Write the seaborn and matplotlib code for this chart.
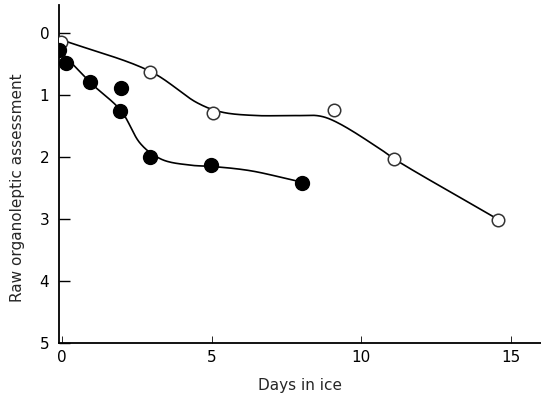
import numpy as np
import pandas as pd
import matplotlib
matplotlib.use("Agg")
import matplotlib.pyplot as plt
import seaborn as sns

# pontos medidos (dias em gelo, avaliação organoléptica)
dias_aberto = [-0.03, 2.95, 5.03, 9.07, 11.1, 14.55]
nota_aberto = [0.15, 0.63, 1.29, 1.24, 2.03, 3.02]

dias_cheio = [-0.1, 0.13, 0.93, 1.97, 1.93, 2.93, 4.97, 8.03]
nota_cheio = [0.27, 0.48, 0.79, 0.89, 1.26, 2.0, 2.13, 2.42]

# curvas desenhadas à mão (nós)
curva_aberto_x = [0.0, 3.0, 4.5, 5.3, 6.5, 7.8, 8.8, 10.6, 11.1, 14.55]
curva_aberto_y = [0.11, 0.63, 1.12, 1.27, 1.33, 1.33, 1.36, 1.86, 2.03, 3.0]

curva_cheio_x = [0.1, 1.0, 2.0, 2.6, 3.3, 4.3, 5.0, 6.3, 7.8]
curva_cheio_y = [0.37, 0.82, 1.27, 1.77, 2.03, 2.13, 2.15, 2.22, 2.38]


def suavizar(xs, ys, n=30, alpha=0.5):
    # Catmull-Rom centrípeta para ligar os nós sem ultrapassagens
    p = np.column_stack([xs, ys]).astype(float)
    p = np.vstack([2 * p[0] - p[1], p, 2 * p[-1] - p[-2]])
    out = []
    for i in range(1, len(p) - 2):
        p0, p1, p2, p3 = p[i - 1], p[i], p[i + 1], p[i + 2]
        t0 = 0.0
        t1 = t0 + np.linalg.norm(p1 - p0) ** alpha
        t2 = t1 + np.linalg.norm(p2 - p1) ** alpha
        t3 = t2 + np.linalg.norm(p3 - p2) ** alpha
        t = np.linspace(t1, t2, n, endpoint=False)[:, None]
        a1 = (t1 - t) / (t1 - t0) * p0 + (t - t0) / (t1 - t0) * p1
        a2 = (t2 - t) / (t2 - t1) * p1 + (t - t1) / (t2 - t1) * p2
        a3 = (t3 - t) / (t3 - t2) * p2 + (t - t2) / (t3 - t2) * p3
        b1 = (t2 - t) / (t2 - t0) * a1 + (t - t0) / (t2 - t0) * a2
        b2 = (t3 - t) / (t3 - t1) * a2 + (t - t1) / (t3 - t1) * a3
        out.append((t2 - t) / (t2 - t1) * b1 + (t - t1) / (t2 - t1) * b2)
    out.append(p[-2][None, :])
    out = np.vstack(out)
    return pd.DataFrame({"x": out[:, 0], "y": out[:, 1]})


sns.set_theme(style="ticks")
plt.rcParams['font.family'] = ['DejaVu Sans']

fig = plt.figure(figsize=(5.41, 3.99), dpi=100, facecolor="white")
ax = fig.add_axes([0.109, 0.140, 0.891, 0.847])

sns.lineplot(data=suavizar(curva_aberto_x, curva_aberto_y), x="x", y="y", sort=False,
             estimator=None, color="black", linewidth=1.2, ax=ax)
sns.lineplot(data=suavizar(curva_cheio_x, curva_cheio_y), x="x", y="y", sort=False,
             estimator=None, color="black", linewidth=1.2, ax=ax)

ax.plot(dias_aberto, nota_aberto, linestyle="none", marker="o", markersize=9,
        markerfacecolor="white", markeredgecolor="#333333", markeredgewidth=1.1, zorder=3)
ax.plot(dias_cheio, nota_cheio, linestyle="none", marker="o", markersize=10,
        markerfacecolor="black", markeredgecolor="black", zorder=3)

ax.set_xlim(-0.1, 16)
ax.set_ylim(5, -0.45)
ax.set_xticks([0, 5, 10, 15])
ax.set_yticks([0, 1, 2, 3, 4, 5])
ax.tick_params(axis="y", direction="in", length=8, width=1, pad=7, labelsize=11, colors="black")
ax.tick_params(axis="x", direction="in", length=5, width=0.6, pad=5, labelsize=11, colors="black")
ax.spines["top"].set_visible(False)
ax.spines["right"].set_visible(False)
ax.spines["left"].set_linewidth(1.3)
ax.spines["bottom"].set_linewidth(1.3)
ax.spines["left"].set_color("black")
ax.spines["bottom"].set_color("black")

ax.set_xlabel("Days in ice", fontsize=11, labelpad=9)
ax.set_ylabel("Raw organoleptic assessment", fontsize=11)
ax.yaxis.set_label_coords(-0.07, 0.46)

fig.savefig("out.png", dpi=100, facecolor="white")
